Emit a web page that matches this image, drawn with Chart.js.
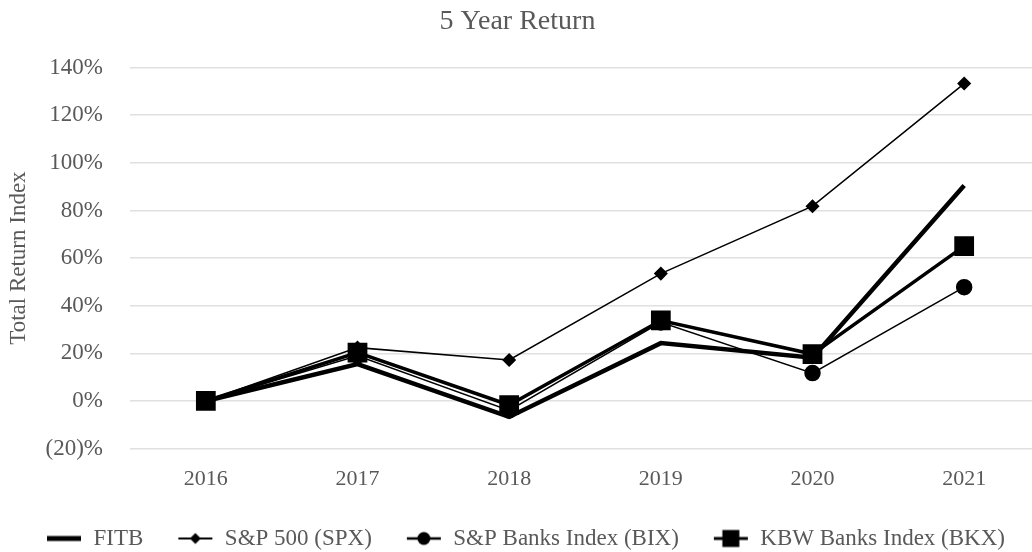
<!DOCTYPE html>
<html>
<head>
<meta charset="utf-8">
<script src="https://cdn.jsdelivr.net/npm/chart.js@4/dist/chart.umd.min.js"></script>
<style>
  html, body { margin: 0; padding: 0; background: #fff; overflow: hidden; }
  #wrap { width: 1055px; height: 560px; }
</style>
</head>
<body>
<div id="wrap"><canvas id="myChart"></canvas></div>
<script>
const years = ["2016", "2017", "2018", "2019", "2020", "2021"];
const fitb = [0, 15.5, -6.7, 24.3, 18.2, 90.5];
const spx = [0, 22.4, 17.2, 53.5, 81.8, 133.3];
const bix = [0, 19.0, -4.0, 33.0, 11.7, 47.8];
const bkx = [0, 20.3, -1.7, 33.8, 19.7, 65.0];
const yTicks = [-20, 0, 20, 40, 60, 80, 100, 120, 140];

const textGray = "#595959";
const serif = "'Liberation Serif', 'DejaVu Serif', serif";

// legend icon: line with a marker, blank space on the left acts as item gap
const ICON_GAP = 16;
function legendIcon(lineWidth, marker, size) {
  const c = document.createElement("canvas");
  c.width = 36 + ICON_GAP;
  c.height = 22;
  const g = c.getContext("2d");
  const cx = ICON_GAP + 18;
  g.strokeStyle = "#000";
  g.fillStyle = "#000";
  g.lineWidth = lineWidth;
  g.beginPath();
  g.moveTo(ICON_GAP + 1, 11);
  g.lineTo(ICON_GAP + 35, 11);
  g.stroke();
  g.beginPath();
  if (marker === "diamond") {
    g.moveTo(cx, 11 - size);
    g.lineTo(cx + size, 11);
    g.lineTo(cx, 11 + size);
    g.lineTo(cx - size, 11);
    g.closePath();
    g.fill();
  } else if (marker === "circle") {
    g.arc(cx, 11, size, 0, Math.PI * 2);
    g.fill();
  } else if (marker === "square") {
    g.fillRect(cx - size, 11 - size, size * 2, size * 2);
  }
  return c;
}

const icons = [
  legendIcon(5, null, 0),
  legendIcon(2, "diamond", 5.5),
  legendIcon(2.5, "circle", 6.5),
  legendIcon(3, "square", 8.5),
];

const chartData = {
  labels: years,
  datasets: [
    {
      label: "FITB",
      data: fitb,
      borderColor: "#000",
      backgroundColor: "#000",
      borderWidth: 4.5,
      pointRadius: 0,
      order: 4,
    },
    {
      label: "S&P 500 (SPX)",
      data: spx,
      borderColor: "#000",
      backgroundColor: "#000",
      borderWidth: 1.5,
      pointStyle: "rectRot",
      pointRadius: 6,
      order: 3,
    },
    {
      label: "S&P Banks Index (BIX)",
      data: bix,
      borderColor: "#000",
      backgroundColor: "#000",
      borderWidth: 1.5,
      pointStyle: "circle",
      pointRadius: 7.5,
      order: 2,
    },
    {
      label: "KBW Banks Index (BKX)",
      data: bkx,
      borderColor: "#000",
      backgroundColor: "#000",
      borderWidth: 3.5,
      pointStyle: "rect",
      pointRadius: 11.5,
      order: 1,
    },
  ],
};

const options = {
  responsive: true,
  maintainAspectRatio: false,
  animation: false,
  layout: { padding: { left: -20, right: 0, top: 5, bottom: 0 } },
  scales: {
    x: {
      offset: true,
      grid: { display: false, drawTicks: false },
      border: { display: false },
      ticks: {
        color: textGray,
        font: { family: serif, size: 22 },
        padding: 17,
      },
    },
    y: {
      min: -20,
      max: 140,
      afterBuildTicks: (axis) => {
        axis.ticks = yTicks.map((v) => ({ value: v }));
      },
      afterFit: (axis) => {
        axis.width = 150;
      },
      grid: { color: "#e0e0e0", lineWidth: 1.5, drawTicks: false },
      border: { display: false },
      ticks: {
        color: textGray,
        font: { family: serif, size: 23 },
        padding: 27,
        callback: (v) => (v < 0 ? "(" + Math.abs(v) + ")%" : v + "%"),
      },
      title: {
        display: true,
        text: "Total Return Index",
        color: textGray,
        font: { family: serif, size: 23 },
        padding: { top: 25, bottom: 14 },
      },
    },
  },
  plugins: {
    title: {
      display: true,
      text: "5 Year Return",
      color: textGray,
      font: { family: serif, size: 28, weight: "normal" },
      padding: { top: 0, bottom: 29 },
    },
    legend: {
      display: true,
      position: "bottom",
      labels: {
        color: textGray,
        font: { family: serif, size: 23 },
        usePointStyle: true,
        pointStyleWidth: 36 + ICON_GAP,
        padding: 18,
        generateLabels: (chart) =>
          chart.data.datasets.map((ds, i) => ({
            text: ds.label,
            pointStyle: icons[i],
            fillStyle: "#000",
            strokeStyle: "#000",
            lineWidth: 0,
            hidden: false,
            datasetIndex: i,
            fontColor: textGray,
          })),
      },
    },
    tooltip: { enabled: false },
  },
};

const ctx = document.getElementById("myChart").getContext("2d");
new Chart(ctx, {
  type: "line",
  data: chartData,
  options: options,
});
</script>
</body>
</html>
